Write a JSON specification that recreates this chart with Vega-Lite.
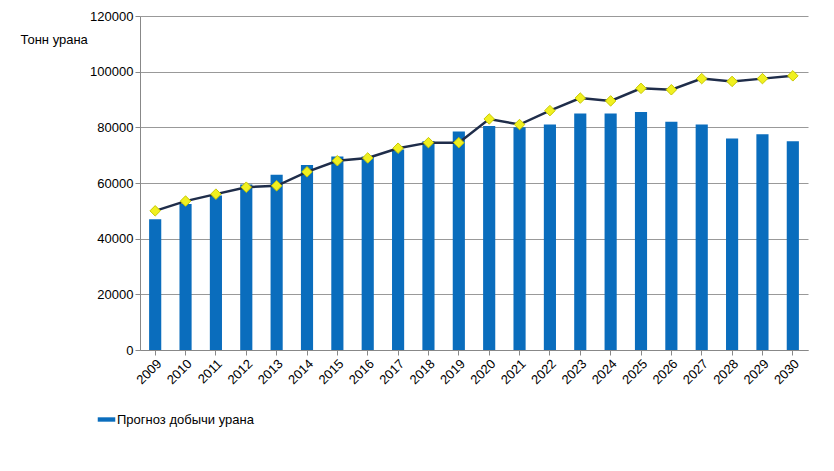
{
  "$schema": "https://vega.github.io/schema/vega-lite/v6.json",
  "width": 668,
  "height": 334,
  "autosize": "none",
  "padding": {"left": 140, "top": 16, "right": 26, "bottom": 121},
  "background": "white",
  "config": {
    "font": "Liberation Sans",
    "view": {"stroke": null},
    "axis": {"labelFont": "Liberation Sans", "labelColor": "#000", "labelFontSize": 13}
  },
  "data": {
    "values": [
      {"year": "2009", "prod": 47000, "need": 50000},
      {"year": "2010", "prod": 52500, "need": 53500},
      {"year": "2011", "prod": 55500, "need": 56000},
      {"year": "2012", "prod": 59500, "need": 58500},
      {"year": "2013", "prod": 63000, "need": 59000},
      {"year": "2014", "prod": 66500, "need": 64000},
      {"year": "2015", "prod": 69500, "need": 68000},
      {"year": "2016", "prod": 69500, "need": 69000},
      {"year": "2017", "prod": 72000, "need": 72500},
      {"year": "2018", "prod": 75000, "need": 74500},
      {"year": "2019", "prod": 78500, "need": 74500},
      {"year": "2020", "prod": 80500, "need": 83000},
      {"year": "2021", "prod": 80000, "need": 81000},
      {"year": "2022", "prod": 81000, "need": 86000},
      {"year": "2023", "prod": 85000, "need": 90500},
      {"year": "2024", "prod": 85000, "need": 89500},
      {"year": "2025", "prod": 85500, "need": 94000},
      {"year": "2026", "prod": 82000, "need": 93500},
      {"year": "2027", "prod": 81000, "need": 97500},
      {"year": "2028", "prod": 76000, "need": 96500},
      {"year": "2029", "prod": 77500, "need": 97500},
      {"year": "2030", "prod": 75000, "need": 98500}
    ]
  },
  "encoding": {
    "x": {
      "field": "year", "type": "ordinal", "title": null,
      "scale": {"paddingInner": 0.6, "paddingOuter": 0.3},
      "axis": {"labelAngle": -45, "domainColor": "#888", "tickColor": "#888", "labelPadding": 2}
    }
  },
  "layer": [
    {
      "mark": {"type": "bar", "color": "#0a6dbd"},
      "encoding": {
        "y": {
          "field": "prod", "type": "quantitative",
          "scale": {"domain": [0, 120000]},
          "title": "Тонн урана",
          "axis": {
            "tickCount": 6, "format": "d", "grid": true, "gridColor": "#999",
            "domainColor": "#888", "tickColor": "#888",
            "titleAngle": 0, "titleAlign": "left", "titleX": -120, "titleY": 30,
            "titleFontSize": 13, "titleFontWeight": "normal", "titleColor": "#000"
          }
        },
        "color": {
          "datum": "Прогноз добычи урана", "type": "nominal",
          "scale": {"range": ["#0a6dbd"]},
          "legend": {
            "title": null, "orient": "none", "legendX": -40, "legendY": 397,
            "symbolType": "M-1.6,-0.4H1.6V0.4H-1.6Z", "symbolSize": 120, "labelFontSize": 13, "labelColor": "#000", "labelLimit": 0
          }
        }
      }
    },
    {
      "mark": {"type": "line", "color": "#1f2d4a", "strokeWidth": 2.5},
      "encoding": {"y": {"field": "need", "type": "quantitative"}}
    },
    {
      "mark": {"type": "point", "shape": "diamond", "filled": true, "strokeWidth": 1, "size": 110, "opacity": 1},
      "encoding": {
        "y": {"field": "need", "type": "quantitative"},
        "fill": {
          "datum": "Необходимые объемы добычи урана для удовлетворения спроса", "type": "nominal",
          "scale": {"range": ["#f0f020"]},
          "legend": null
        },
        "stroke": {
          "datum": "Необходимые объемы добычи урана для удовлетворения спроса", "type": "nominal",
          "scale": {"range": ["#c8c800"]},
          "legend": {
            "title": null, "orient": "none", "legendX": 170, "legendY": 397,
            "symbolType": "M-1.5,0H1.5M0,-0.35L0.35,0L0,0.35L-0.35,0Z", "symbolFillColor": "#f0f020",
            "symbolStrokeColor": "#1f2d4a",
            "symbolSize": 200, "symbolStrokeWidth": 2, "labelFontSize": 13, "labelColor": "#000", "labelLimit": 0
          }
        }
      }
    }
  ]
}
